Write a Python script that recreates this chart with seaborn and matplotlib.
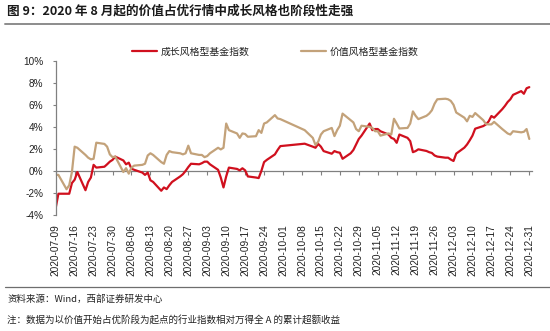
import matplotlib
matplotlib.use("Agg")
import matplotlib.pyplot as plt
import matplotlib.dates as mdates
from matplotlib.lines import Line2D
import seaborn as sns
import pandas as pd

# ---------------- data ----------------
jul = ["07-09","07-10","07-13","07-14","07-15","07-16","07-17","07-20","07-21","07-22",
       "07-23","07-24","07-27","07-28","07-29","07-30","07-31"]
aug = ["08-03","08-04","08-05","08-06","08-07","08-10","08-11","08-12","08-13","08-14",
       "08-17","08-18","08-19","08-20","08-21","08-24","08-25","08-26","08-27","08-28","08-31"]
sep = ["09-01","09-02","09-03","09-04","09-07","09-08","09-09","09-10","09-11","09-14",
       "09-15","09-16","09-17","09-18","09-21","09-22","09-23","09-24","09-25","09-28","09-29","09-30"]
oct_ = ["10-09","10-12","10-13","10-14","10-15","10-16","10-19","10-20","10-21","10-22",
        "10-23","10-26","10-27","10-28","10-29","10-30"]
nov = ["11-02","11-03","11-04","11-05","11-06","11-09","11-10","11-11","11-12","11-13",
       "11-16","11-17","11-18","11-19","11-20","11-23","11-24","11-25","11-26","11-27","11-30"]
dec = ["12-01","12-02","12-03","12-04","12-07","12-08","12-09","12-10","12-11","12-14",
       "12-15","12-16","12-17","12-18","12-21","12-22","12-23","12-24","12-25","12-28",
       "12-29","12-30","12-31"]
dates = ["2020-" + d for d in jul + aug + sep + oct_ + nov + dec]

growth = [-3.36,-2.07,-2.07,-2.07,-1.1,-0.8,-0.1,-1.75,-1.0,-0.6,0.55,0.3,0.38,0.6,0.84,1.0,1.3,
          0.95,0.6,0.75,0.2,0.1,-0.15,-0.36,-0.15,-0.85,-1.0,-1.8,-1.5,-1.65,-1.3,-1.0,-0.5,-0.3,0.0,0.35,0.65,0.6,
          0.7,0.84,0.84,0.6,0.1,-0.6,-1.5,-0.5,0.3,0.18,0.05,0.24,0.05,-0.5,-0.6,-0.65,0.0,0.8,1.0,1.5,1.9,2.25,
          2.47,2.2,2.1,2.45,2.2,1.8,1.56,1.8,1.7,1.65,1.1,1.6,1.9,2.4,2.9,3.2,
          4.3,3.7,3.8,3.8,3.6,3.3,3.0,2.9,2.55,3.3,3.0,2.7,1.7,1.8,1.96,1.81,1.7,1.63,1.4,1.3,1.2,
          1.2,1.03,0.9,1.57,2.11,2.4,2.78,3.2,3.83,4.07,4.22,4.5,4.98,4.83,5.6,5.9,6.25,6.5,6.9,7.24,7.0,7.5,7.6]

value = [-0.36,-0.36,-1.66,-1.3,-0.1,2.2,2.1,1.45,1.2,1.05,1.1,2.56,2.45,2.2,1.5,1.25,1.3,
         -0.1,0.25,-0.25,0.3,0.48,0.55,0.65,1.4,1.6,1.45,0.8,0.65,1.45,1.8,1.7,1.6,1.5,1.6,2.29,1.6,1.45,
         1.45,1.25,1.35,1.6,2.1,1.95,2.1,4.3,3.7,3.4,3.0,3.4,3.35,3.1,3.15,3.7,3.45,4.3,4.4,5.06,4.76,4.7,
         3.7,3.0,2.35,2.65,3.3,3.6,3.9,3.16,3.7,4.1,5.2,4.6,4.4,3.8,3.6,4.1,
         4.0,3.9,3.6,3.6,3.2,3.4,3.3,4.73,4.3,3.85,3.9,4.3,5.4,5.0,4.7,5.0,5.2,5.5,6.1,6.5,6.55,
         6.5,6.35,6.0,5.3,4.83,4.5,5.0,4.9,5.25,4.6,4.25,4.22,4.22,4.45,3.8,3.6,3.4,3.3,3.6,3.5,3.55,3.8,2.9]

series_names = ["成长风格型基金指数", "价值风格型基金指数"]
y_ticks = [-4, -2, 0, 2, 4, 6, 8, 10]
tick_start, tick_end = "2020-07-09", "2020-12-31"

title = "图 9：2020 年 8 月起的价值占优行情中成长风格也阶段性走强"
source = "资料来源：Wind，西部证券研发中心"
note = "注：数据为以价值开始占优阶段为起点的行业指数相对万得全 A 的累计超额收益"

# ---------------- frame ----------------
df = pd.DataFrame({
    "date": pd.to_datetime(dates * 2),
    "v": growth + value,
    "s": [series_names[0]] * len(dates) + [series_names[1]] * len(dates),
})

sns.set_theme(style="white")
cjk = ["Noto Sans CJK SC", "DejaVu Sans"]
plt.rcParams["font.family"] = cjk
plt.rcParams["axes.unicode_minus"] = False

fig = plt.figure(figsize=(5.5, 3.31), dpi=100)
ax = fig.add_axes([55.7/550, 1-215/331, (532-55.7)/550, (215-60.7)/331])

red = "#D0101E"
tan = "#C3A27A"
sns.lineplot(data=df, x="date", y="v", hue="s", hue_order=series_names,
             palette=[red, tan], linewidth=1.6, ax=ax, legend=True)

ax.set_ylim(-4, 10)
ax.set_xlim(pd.Timestamp("2020-07-09"), pd.Timestamp("2021-01-01"))
ax.set_xlabel("")
ax.set_ylabel("")

ticks = pd.date_range(tick_start, tick_end, freq="7D")
tick_nums = mdates.date2num(ticks)
ax.set_xticks(tick_nums)
ax.set_xticklabels([t.strftime("%Y-%m-%d") for t in ticks], rotation=90,
                   fontsize=7.3, family="Liberation Sans", color="#222222")
ax.tick_params(axis="x", length=0, pad=6.5)

ax.set_yticks(y_ticks)
ax.set_yticklabels([f"{t}%" for t in y_ticks], fontsize=7.2,
                   family="Liberation Sans", color="#222222")
ax.tick_params(axis="y", length=2.5, width=0.8, color="#808080", direction="out", pad=6.5, left=True)

for s in ["top", "right", "bottom"]:
    ax.spines[s].set_visible(False)
ax.spines["left"].set_color("#808080")
ax.spines["left"].set_linewidth(0.9)

# zero axis with tick marks
sec = ax.secondary_xaxis(4/14)
sec.set_xticks(tick_nums)
sec.tick_params(axis="x", length=3, width=0.8, color="#808080", direction="out", labelbottom=False)
sec.spines["bottom"].set_color("#808080")
sec.spines["bottom"].set_linewidth(0.9)
for s in ["top", "left", "right"]:
    sec.spines[s].set_visible(False)

# legend
h, l = ax.get_legend_handles_labels()
ax.legend(h, l, loc="center", bbox_to_anchor=(275.5/550, 1-51.7/331),
          bbox_transform=fig.transFigure, ncol=2, frameon=False,
          handlelength=2.5, handletextpad=0.4, columnspacing=5.2,
          prop={"family": cjk, "size": 7.1})
for t in ax.get_legend().get_texts():
    t.set_color("#222222")

# header / footer
fig.text(7/550, 1-11.5/331, title, fontsize=9.1, fontweight="bold", color="#1a1a1a",
         va="center", ha="left", family=cjk)
fig.add_artist(Line2D([5/550, 1], [1-23.5/331]*2, transform=fig.transFigure,
                      color="#8c8c8c", linewidth=1.4))
fig.add_artist(Line2D([5/550, 1], [1-287/331]*2, transform=fig.transFigure,
                      color="#6e6e6e", linewidth=0.9))
fig.text(7/550, 1-299/331, source, fontsize=6.8, color="#222222", va="center", ha="left", family=cjk)
fig.text(7/550, 1-320/331, note, fontsize=6.85, color="#222222", va="center", ha="left", family=cjk)

fig.savefig("out.png", dpi=100)
